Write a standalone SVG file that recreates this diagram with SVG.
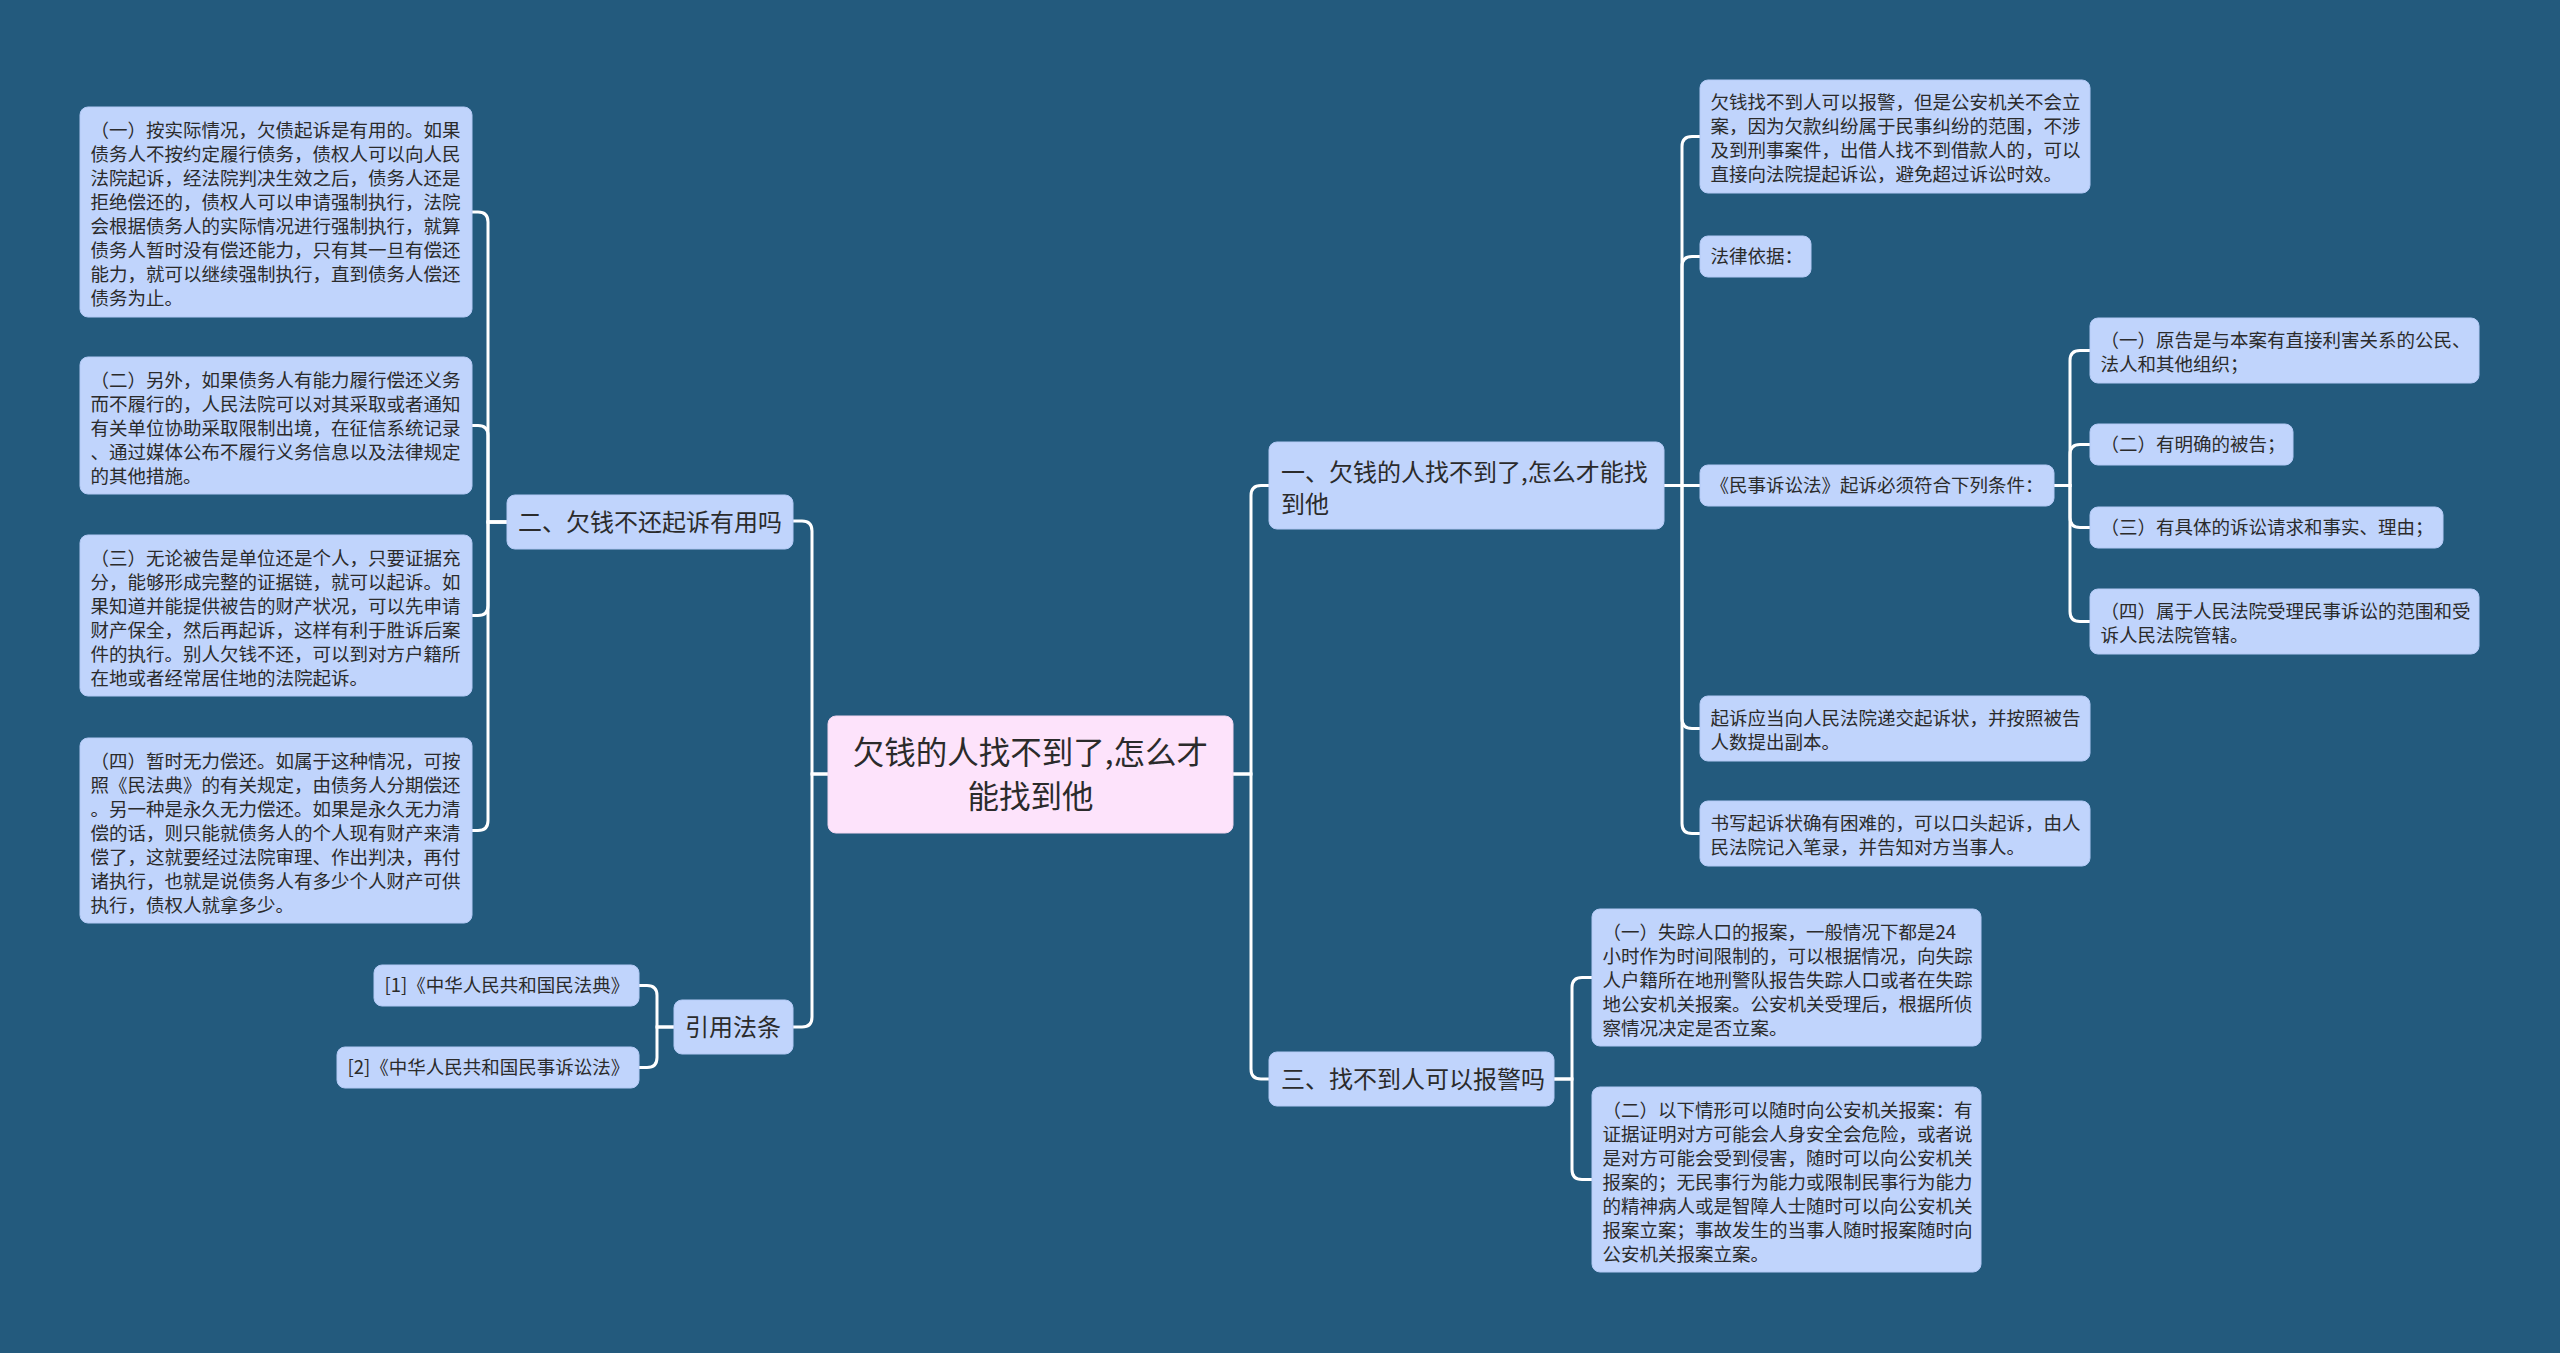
<svg xmlns="http://www.w3.org/2000/svg" width="2560" height="1353" viewBox="0 0 2560 1353">
<style>
.bg{fill:#235a7d}
.n rect{fill:#c0d4fc;stroke:#b3c9f5;stroke-width:1}
.root rect{fill:#fde3fb;stroke:#f3d6f1;stroke-width:1}
text{font-family:"Noto Sans CJK SC","Noto Sans",sans-serif;fill:#2b2b2b}
.t0{font-size:31.5px}
.t1{font-size:24px}
.t2{font-size:18.5px}
#edges path{fill:none;stroke:#ffffff;stroke-width:3;stroke-linecap:round}
</style>
<rect class="bg" x="0" y="0" width="2560" height="1353"/>
<g id="edges">
<path d="M828,774 H812 V531 Q812,521 802,521 H793"/>
<path d="M828,774 H812 V1017 Q812,1027 802,1027 H793"/>
<path d="M1233,774 H1251 V495.5 Q1251,485.5 1261,485.5 H1269"/>
<path d="M1233,774 H1251 V1069 Q1251,1079 1261,1079 H1269"/>
<path d="M507,522 H488 V222 Q488,212 478,212 H472"/>
<path d="M507,522 H488 V435.5 Q488,425.5 478,425.5 H472"/>
<path d="M507,522 H488 V605.5 Q488,615.5 478,615.5 H472"/>
<path d="M507,522 H488 V820.5 Q488,830.5 478,830.5 H472"/>
<path d="M674,1027 H657 V995.5 Q657,985.5 647,985.5 H639"/>
<path d="M674,1027 H657 V1057.5 Q657,1067.5 647,1067.5 H639"/>
<path d="M1664,485.5 H1682 V146.5 Q1682,136.5 1692,136.5 H1700"/>
<path d="M1664,485.5 H1682 V266.5 Q1682,256.5 1692,256.5 H1700"/>
<path d="M1664,485.5 H1700"/>
<path d="M1664,485.5 H1682 V718.5 Q1682,728.5 1692,728.5 H1700"/>
<path d="M1664,485.5 H1682 V823.5 Q1682,833.5 1692,833.5 H1700"/>
<path d="M2054,485.5 H2070 V360.5 Q2070,350.5 2080,350.5 H2090"/>
<path d="M2054,485.5 H2070 V454.5 Q2070,444.5 2080,444.5 H2090"/>
<path d="M2054,485.5 H2070 V517.5 Q2070,527.5 2080,527.5 H2090"/>
<path d="M2054,485.5 H2070 V611.5 Q2070,621.5 2080,621.5 H2090"/>
<path d="M1554,1079 H1572 V987.5 Q1572,977.5 1582,977.5 H1592"/>
<path d="M1554,1079 H1572 V1169.5 Q1572,1179.5 1582,1179.5 H1592"/>
</g>

<g id="root" class="root">
<rect x="828" y="716" width="405" height="117" rx="8"/>
<text class="t0" text-anchor="middle"><tspan x="1030.5" y="764">欠钱的人找不到了,怎么才</tspan><tspan x="1030.5" y="808">能找到他</tspan></text>
</g>

<g id="n-er" class="n">
<rect x="507" y="495" width="286" height="54" rx="8"/>
<text class="t1" x="518" y="531">二、欠钱不还起诉有用吗</text>
</g>

<g id="n-yinyong" class="n">
<rect x="674" y="1000" width="119" height="54" rx="8"/>
<text class="t1" x="685" y="1036">引用法条</text>
</g>

<g id="n-yi" class="n">
<rect x="1269" y="442" width="395" height="87" rx="8"/>
<text class="t1"><tspan x="1281" y="481">一、欠钱的人找不到了,怎么才能找</tspan><tspan x="1281" y="513">到他</tspan></text>
</g>

<g id="n-san" class="n">
<rect x="1269" y="1052" width="285" height="54" rx="8"/>
<text class="t1" x="1281" y="1088">三、找不到人可以报警吗</text>
</g>

<g id="l1" class="n">
<rect x="80" y="107" width="392" height="210" rx="8"/>
<text class="t2"><tspan x="90.5" y="136.5">（一）按实际情况，欠债起诉是有用的。如果</tspan><tspan x="90.5" y="160.5">债务人不按约定履行债务，债权人可以向人民</tspan><tspan x="90.5" y="184.5">法院起诉，经法院判决生效之后，债务人还是</tspan><tspan x="90.5" y="208.5">拒绝偿还的，债权人可以申请强制执行，法院</tspan><tspan x="90.5" y="232.5">会根据债务人的实际情况进行强制执行，就算</tspan><tspan x="90.5" y="256.5">债务人暂时没有偿还能力，只有其一旦有偿还</tspan><tspan x="90.5" y="280.5">能力，就可以继续强制执行，直到债务人偿还</tspan><tspan x="90.5" y="304.5">债务为止。</tspan></text>
</g>

<g id="l2" class="n">
<rect x="80" y="357" width="392" height="137" rx="8"/>
<text class="t2"><tspan x="90.5" y="386.5">（二）另外，如果债务人有能力履行偿还义务</tspan><tspan x="90.5" y="410.5">而不履行的，人民法院可以对其采取或者通知</tspan><tspan x="90.5" y="434.5">有关单位协助采取限制出境，在征信系统记录</tspan><tspan x="90.5" y="458.5">、通过媒体公布不履行义务信息以及法律规定</tspan><tspan x="90.5" y="482.5">的其他措施。</tspan></text>
</g>

<g id="l3" class="n">
<rect x="80" y="535" width="392" height="161" rx="8"/>
<text class="t2"><tspan x="90.5" y="564.5">（三）无论被告是单位还是个人，只要证据充</tspan><tspan x="90.5" y="588.5">分，能够形成完整的证据链，就可以起诉。如</tspan><tspan x="90.5" y="612.5">果知道并能提供被告的财产状况，可以先申请</tspan><tspan x="90.5" y="636.5">财产保全，然后再起诉，这样有利于胜诉后案</tspan><tspan x="90.5" y="660.5">件的执行。别人欠钱不还，可以到对方户籍所</tspan><tspan x="90.5" y="684.5">在地或者经常居住地的法院起诉。</tspan></text>
</g>

<g id="l4" class="n">
<rect x="80" y="738" width="392" height="185" rx="8"/>
<text class="t2"><tspan x="90.5" y="767.5">（四）暂时无力偿还。如属于这种情况，可按</tspan><tspan x="90.5" y="791.5">照《民法典》的有关规定，由债务人分期偿还</tspan><tspan x="90.5" y="815.5">。另一种是永久无力偿还。如果是永久无力清</tspan><tspan x="90.5" y="839.5">偿的话，则只能就债务人的个人现有财产来清</tspan><tspan x="90.5" y="863.5">偿了，这就要经过法院审理、作出判决，再付</tspan><tspan x="90.5" y="887.5">诸执行，也就是说债务人有多少个人财产可供</tspan><tspan x="90.5" y="911.5">执行，债权人就拿多少。</tspan></text>
</g>

<g id="ref1" class="n">
<rect x="374" y="965" width="265" height="41" rx="8"/>
<text class="t2" x="384.5" y="992">[1]《中华人民共和国民法典》</text>
</g>

<g id="ref2" class="n">
<rect x="337" y="1047" width="302" height="41" rx="8"/>
<text class="t2" x="347.5" y="1074">[2]《中华人民共和国民事诉讼法》</text>
</g>

<g id="c1" class="n">
<rect x="1700" y="80" width="390" height="113" rx="8"/>
<text class="t2"><tspan x="1710.5" y="108.5">欠钱找不到人可以报警，但是公安机关不会立</tspan><tspan x="1710.5" y="132.5">案，因为欠款纠纷属于民事纠纷的范围，不涉</tspan><tspan x="1710.5" y="156.5">及到刑事案件，出借人找不到借款人的，可以</tspan><tspan x="1710.5" y="180.5">直接向法院提起诉讼，避免超过诉讼时效。</tspan></text>
</g>

<g id="c2" class="n">
<rect x="1700" y="236" width="111" height="41" rx="8"/>
<text class="t2" x="1710.5" y="263">法律依据：</text>
</g>

<g id="c3" class="n">
<rect x="1700" y="465" width="354" height="41" rx="8"/>
<text class="t2" x="1710.5" y="492">《民事诉讼法》起诉必须符合下列条件：</text>
</g>

<g id="d1" class="n">
<rect x="2090" y="318" width="389" height="65" rx="8"/>
<text class="t2"><tspan x="2100.5" y="346.5">（一）原告是与本案有直接利害关系的公民、</tspan><tspan x="2100.5" y="370.5">法人和其他组织；</tspan></text>
</g>

<g id="d2" class="n">
<rect x="2090" y="424" width="203" height="41" rx="8"/>
<text class="t2" x="2100.5" y="451">（二）有明确的被告；</text>
</g>

<g id="d3" class="n">
<rect x="2090" y="507" width="353" height="41" rx="8"/>
<text class="t2" x="2100.5" y="534">（三）有具体的诉讼请求和事实、理由；</text>
</g>

<g id="d4" class="n">
<rect x="2090" y="589" width="389" height="65" rx="8"/>
<text class="t2"><tspan x="2100.5" y="617.5">（四）属于人民法院受理民事诉讼的范围和受</tspan><tspan x="2100.5" y="641.5">诉人民法院管辖。</tspan></text>
</g>

<g id="c4" class="n">
<rect x="1700" y="696" width="390" height="65" rx="8"/>
<text class="t2"><tspan x="1710.5" y="724.5">起诉应当向人民法院递交起诉状，并按照被告</tspan><tspan x="1710.5" y="748.5">人数提出副本。</tspan></text>
</g>

<g id="c5" class="n">
<rect x="1700" y="801" width="390" height="65" rx="8"/>
<text class="t2"><tspan x="1710.5" y="829.5">书写起诉状确有困难的，可以口头起诉，由人</tspan><tspan x="1710.5" y="853.5">民法院记入笔录，并告知对方当事人。</tspan></text>
</g>

<g id="e1" class="n">
<rect x="1592" y="909" width="389" height="137" rx="8"/>
<text class="t2"><tspan x="1602.5" y="938.5">（一）失踪人口的报案，一般情况下都是24</tspan><tspan x="1602.5" y="962.5">小时作为时间限制的，可以根据情况，向失踪</tspan><tspan x="1602.5" y="986.5">人户籍所在地刑警队报告失踪人口或者在失踪</tspan><tspan x="1602.5" y="1010.5">地公安机关报案。公安机关受理后，根据所侦</tspan><tspan x="1602.5" y="1034.5">察情况决定是否立案。</tspan></text>
</g>

<g id="e2" class="n">
<rect x="1592" y="1087" width="389" height="185" rx="8"/>
<text class="t2"><tspan x="1602.5" y="1116.5">（二）以下情形可以随时向公安机关报案：有</tspan><tspan x="1602.5" y="1140.5">证据证明对方可能会人身安全会危险，或者说</tspan><tspan x="1602.5" y="1164.5">是对方可能会受到侵害，随时可以向公安机关</tspan><tspan x="1602.5" y="1188.5">报案的；无民事行为能力或限制民事行为能力</tspan><tspan x="1602.5" y="1212.5">的精神病人或是智障人士随时可以向公安机关</tspan><tspan x="1602.5" y="1236.5">报案立案；事故发生的当事人随时报案随时向</tspan><tspan x="1602.5" y="1260.5">公安机关报案立案。</tspan></text>
</g>
</svg>
